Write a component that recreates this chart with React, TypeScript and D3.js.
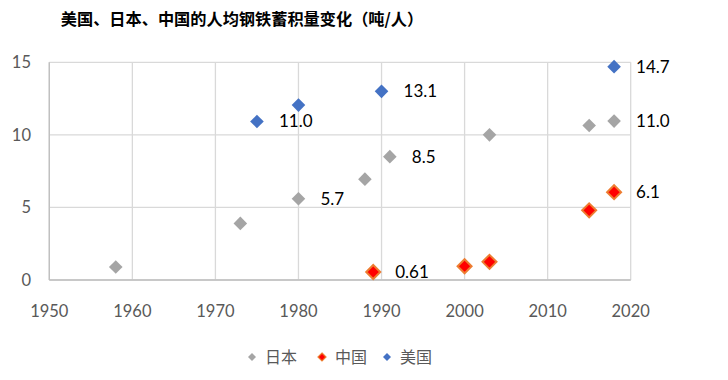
import React from "react";
import * as d3 from "d3";

const title = "美国、日本、中国的人均钢铁蓄积量变化（吨/人）";
const seriesNames = ["日本", "中国", "美国"];
const japanYears = [1958, 1973, 1980, 1988, 1991, 2003, 2015, 2018];
const japanValues = [0.9, 3.9, 5.6, 6.95, 8.5, 10.0, 10.65, 10.95];
const chinaYears = [1989, 2000, 2003, 2015, 2018];
const chinaValues = [0.55, 0.95, 1.25, 4.8, 6.05];
const usYears = [1975, 1980, 1990, 2018];
const usValues = [10.92, 12.05, 13.0, 14.7];
const xTicks = [1950, 1960, 1970, 1980, 1990, 2000, 2010, 2020];
const yTicks = [0, 5, 10, 15];

const labelYears = [1975, 1980, 1990, 1991, 1989, 2018, 2018, 2018];
const labelValues = [10.92, 5.6, 13.0, 8.5, 0.55, 14.7, 10.95, 6.05];
const labelTexts = ["11.0", "5.7", "13.1", "8.5", "0.61", "14.7", "11.0", "6.1"];

const W = 728;
const H = 380;
const margin = { left: 49.3, right: 728 - 630.7, top: 62.3, bottom: 380 - 280 };

export default function App() {
  const x = d3.scaleLinear().domain([1950, 2020]).range([margin.left, W - margin.right]);
  const y = d3.scaleLinear().domain([0, 15]).range([H - margin.bottom, margin.top]);
  const font = "'Lato', 'Noto Sans CJK SC', sans-serif";
  const cjk = "'Noto Sans CJK SC', sans-serif";
  const colors: Record<string, { fill: string; stroke: string }> = {
    日本: { fill: "#A5A5A5", stroke: "none" },
    中国: { fill: "#FF0000", stroke: "#ED7D31" },
    美国: { fill: "#4472C4", stroke: "none" },
  };
  const diamond = (cx: number, cy: number, r: number) =>
    `M${cx},${cy - r}L${cx + r},${cy}L${cx},${cy + r}L${cx - r},${cy}Z`;

  const series = [
    { name: "日本", years: japanYears, values: japanValues },
    { name: "中国", years: chinaYears, values: chinaValues },
    { name: "美国", years: usYears, values: usValues },
  ];

  const legendX = [252, 322, 387];

  return (
    <svg width={W} height={H} style={{ position: "absolute", left: 0, top: 0 }}>
      <rect width={W} height={H} fill="#fff" />
      <text x={242} y={25} textAnchor="middle" fontFamily={cjk} fontWeight="bold" fontSize={16.2} fill="#000">
        {title}
      </text>
      {xTicks.map((t) => (
        <line key={"gx" + t} x1={x(t)} x2={x(t)} y1={y(15)} y2={y(0)} stroke="#D9D9D9" strokeWidth={1.3} />
      ))}
      {yTicks.map((t) => (
        <line key={"gy" + t} x1={x(1950)} x2={x(2020)} y1={y(t)} y2={y(t)} stroke="#D9D9D9" strokeWidth={1.3} />
      ))}
      <line x1={x(1950)} x2={x(1950)} y1={y(15)} y2={y(0)} stroke="#BFBFBF" strokeWidth={1.3} />
      <line x1={x(1950)} x2={x(2020)} y1={y(0)} y2={y(0)} stroke="#BFBFBF" strokeWidth={1.3} />
      {yTicks.map((t) => (
        <text key={"ty" + t} x={31} y={y(t)} dy="0.36em" textAnchor="end" fontFamily={font} fontSize={16.5} fill="#595959">
          {t}
        </text>
      ))}
      {xTicks.map((t) => (
        <text key={"tx" + t} x={x(t)} y={317} textAnchor="middle" fontFamily={font} fontSize={16.5} fill="#595959">
          {t}
        </text>
      ))}
      {series.map((s) =>
        s.years.map((yr, i) => (
          <path
            key={s.name + yr}
            d={diamond(x(yr), y(s.values[i]), s.name === "中国" ? 7 : 6.8)}
            fill={colors[s.name].fill}
            stroke={colors[s.name].stroke}
            strokeWidth={s.name === "中国" ? 2 : 0}
          />
        ))
      )}
      {labelTexts.map((t, i) => (
        <text
          key={"l" + i}
          x={x(labelYears[i]) + 22}
          y={y(labelValues[i])}
          dy="0.35em"
          fontFamily={font}
          fontSize={17}
          fill="#000"
        >
          {t}
        </text>
      ))}
      {seriesNames.map((n, i) => (
        <g key={"lg" + n}>
          <path
            d={diamond(legendX[i], 357, 4)}
            fill={colors[n].fill}
            stroke={colors[n].stroke}
            strokeWidth={n === "中国" ? 1.2 : 0}
          />
          <text x={legendX[i] + 13} y={357} dy="0.36em" fontFamily={cjk} fontSize={16} fill="#595959">
            {n}
          </text>
        </g>
      ))}
    </svg>
  );
}
